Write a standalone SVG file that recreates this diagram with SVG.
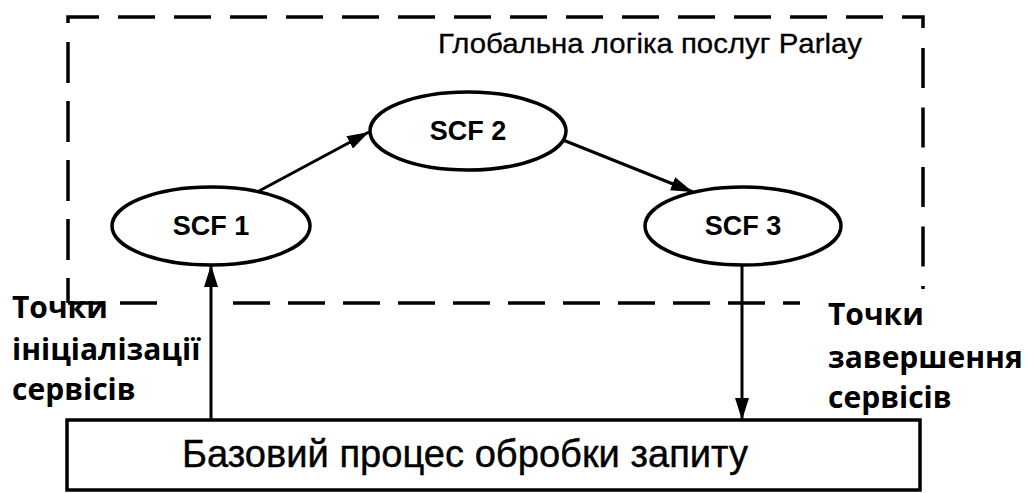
<svg xmlns="http://www.w3.org/2000/svg" width="1029" height="493" viewBox="0 0 1029 493">
  <defs>
    <marker id="arr" viewBox="0 0 22 14" refX="22" refY="7" markerWidth="22" markerHeight="14" markerUnits="userSpaceOnUse" orient="auto">
      <path d="M0,0 L22,7 L0,14 Z" fill="#000"/>
    </marker>
    <style>
      .dash { fill: none; stroke: #000; stroke-width: 3.5; }
      .node { fill: #fff; stroke: #000; stroke-width: 3.5; }
      .conn { fill: none; stroke: #000; stroke-width: 3; marker-end: url(#arr); }
      .lbl { font-family: "Liberation Sans", Arial, sans-serif; fill: #000; }
      .scf { font-size: 27px; font-weight: bold; text-anchor: middle; }
      .side { font-family: "Open Sans", "DejaVu Sans", sans-serif; font-weight: bold; font-size: 30px; fill: #000; }
    </style>
  </defs>

  <g id="boundary">
    <path class="dash" d="M68,23 V17 H923 V28" stroke-dasharray="37 19"/>
    <line class="dash" x1="923" y1="48" x2="923" y2="289" stroke-dasharray="40 19.5"/>
    <line class="dash" x1="68" y1="42" x2="68" y2="303" stroke-dasharray="41 18"/>
    <path class="dash" d="M68,303 H102 M120,303 H157"/>
    <line class="dash" x1="233" y1="303" x2="800" y2="303" stroke-dasharray="37 18"/>
    <text class="lbl" x="438" y="53" font-size="28" stroke="#000" stroke-width="0.3" textLength="424" lengthAdjust="spacingAndGlyphs">Глобальна логіка послуг Parlay</text>
  </g>

  <g id="connectors">
    <line class="conn" x1="259" y1="191" x2="369" y2="132"/>
    <line class="conn" x1="563" y1="140" x2="693" y2="192"/>
    <line class="conn" x1="211" y1="420" x2="211" y2="265"/>
    <line class="conn" x1="742" y1="265" x2="742" y2="420"/>
  </g>

  <g id="scf1">
    <ellipse class="node" cx="211" cy="226" rx="99" ry="39"/>
    <text class="lbl scf" x="211" y="235">SCF 1</text>
  </g>
  <g id="scf2">
    <ellipse class="node" cx="468" cy="131" rx="98" ry="39"/>
    <text class="lbl scf" x="468" y="140">SCF 2</text>
  </g>
  <g id="scf3">
    <ellipse class="node" cx="743" cy="226" rx="98" ry="39"/>
    <text class="lbl scf" x="743" y="235">SCF 3</text>
  </g>

  <g id="base-process">
    <rect x="67" y="420" width="853" height="70" fill="#fff" stroke="#000" stroke-width="3.5"/>
    <text class="lbl" x="182" y="467" font-size="38" stroke="#000" stroke-width="0.4" textLength="566" lengthAdjust="spacingAndGlyphs">Базовий процес обробки запиту</text>
  </g>

  <g id="init-label">
    <text class="side" x="12" y="318">Точки</text>
    <text class="side" x="12" y="360">ініціалізації</text>
    <text class="side" x="12" y="400">сервісів</text>
  </g>

  <g id="end-label">
    <text class="side" x="828" y="325">Точки</text>
    <text class="side" x="828" y="368">завершення</text>
    <text class="side" x="828" y="408">сервісів</text>
  </g>
</svg>
